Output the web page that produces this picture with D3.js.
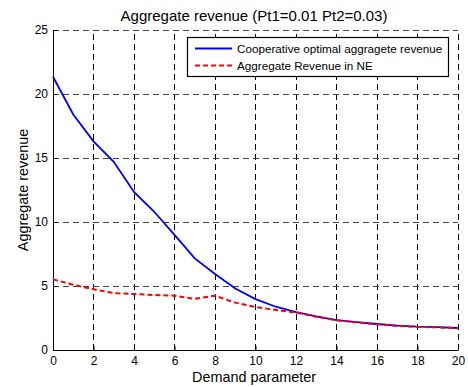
<!DOCTYPE html>
<html>
<head>
<script src="https://d3js.org/d3.v7.min.js"></script>
<style>
  body { margin: 0; background: #fff; }
  text { font-family: "Liberation Sans", Arial, sans-serif; fill: #000; }
</style>
</head>
<body>
<div id="chart"></div>
<script>
// demand parameter values
var demand = d3.range(0, 21);
// cooperative optimal aggregate revenue
var coopRevenue = [21.35, 18.4, 16.3, 14.7, 12.35, 10.8, 9.0, 7.16, 5.94, 4.8, 3.98,
                   3.38, 2.96, 2.62, 2.34, 2.18, 2.03, 1.9, 1.82, 1.78, 1.72];
// aggregate revenue in Nash equilibrium
var neRevenue = [5.52, 5.1, 4.74, 4.45, 4.37, 4.3, 4.24, 4.0, 4.24, 3.7, 3.36,
                 3.13, 2.92, 2.6, 2.32, 2.16, 2.01, 1.88, 1.8, 1.77, 1.7];
var xTicks = [0, 2, 4, 6, 8, 10, 12, 14, 16, 18, 20];
var yTicks = [0, 5, 10, 15, 20, 25];

var width = 468, height = 387;
var m = {left: 53, right: 10, top: 30, bottom: 37};

var svg = d3.select("#chart").append("svg")
  .attr("width", width).attr("height", height);

var x = d3.scaleLinear().domain([0, 20]).range([m.left, width - m.right]);
var y = d3.scaleLinear().domain([0, 25]).range([height - m.bottom, m.top]);

// grid
var grid = svg.append("g").attr("stroke", "#000").attr("stroke-width", 1)
  .attr("stroke-dasharray", "6,4").attr("shape-rendering", "crispEdges");
grid.selectAll(".vg").data(xTicks.slice(1)).enter().append("line")
  .attr("x1", d => x(d)).attr("x2", d => x(d))
  .attr("y1", y(0)).attr("y2", y(25));
grid.selectAll(".hg").data(yTicks.slice(1)).enter().append("line")
  .attr("x1", x(0)).attr("x2", x(20))
  .attr("y1", d => y(d)).attr("y2", d => y(d))
  .attr("stroke", "#444");

// axes with inward ticks
var xAxis = svg.append("g").attr("transform", "translate(0," + y(0) + ")")
  .call(d3.axisBottom(x).tickValues(xTicks).tickSizeInner(-4).tickSizeOuter(0).tickPadding(6.5));
var yAxis = svg.append("g").attr("transform", "translate(" + x(0) + ",0)")
  .call(d3.axisLeft(y).tickValues(yTicks).tickSizeInner(-4).tickSizeOuter(0).tickPadding(5));
[xAxis, yAxis].forEach(function(a) {
  a.selectAll("text").style("font-size", "12px").style("font-family", "Liberation Sans, Arial, sans-serif");
  a.select(".domain").attr("stroke", "#000");
  a.selectAll(".tick line").attr("stroke", "#000");
});

// lines
var line = (vals) => d3.line().x((d, i) => x(demand[i])).y(d => y(d))(vals);
svg.append("path").attr("d", line(coopRevenue))
  .attr("fill", "none").attr("stroke", "#0000ff").attr("stroke-width", 1.8);
svg.append("path").attr("d", line(neRevenue))
  .attr("fill", "none").attr("stroke", "#ff0000").attr("stroke-width", 2)
  .attr("stroke-dasharray", "5,3");

// title and labels
svg.append("text").attr("x", 254).attr("y", 21).attr("text-anchor", "middle")
  .style("font-size", "15px").text("Aggregate revenue (Pt1=0.01 Pt2=0.03)");
svg.append("text").attr("x", 254).attr("y", 382).attr("text-anchor", "middle")
  .style("font-size", "14.4px").text("Demand parameter");
svg.append("text").attr("transform", "translate(28,190) rotate(-90)")
  .attr("text-anchor", "middle").style("font-size", "14.4px").text("Aggregate revenue");

// legend
var lg = svg.append("g").attr("transform", "translate(187,37)");
lg.append("rect").attr("x", 0.5).attr("y", 0.5).attr("width", 261).attr("height", 39)
  .attr("fill", "#fff").attr("stroke", "#000").attr("stroke-width", 1.2);
var items = [
  {name: "Cooperative optimal aggragete revenue", color: "#0000ff", dash: null},
  {name: "Aggregate Revenue in NE", color: "#ff0000", dash: "5,3"}
];
items.forEach(function(it, i) {
  var yy = 11.5 + i * 17;
  lg.append("line").attr("x1", 8).attr("x2", 45).attr("y1", yy).attr("y2", yy)
    .attr("stroke", it.color).attr("stroke-width", it.dash ? 2 : 1.8)
    .attr("stroke-dasharray", it.dash);
  lg.append("text").attr("x", 50).attr("y", yy + 4.3)
    .style("font-size", "11.7px").text(it.name);
});
</script>
</body>
</html>
